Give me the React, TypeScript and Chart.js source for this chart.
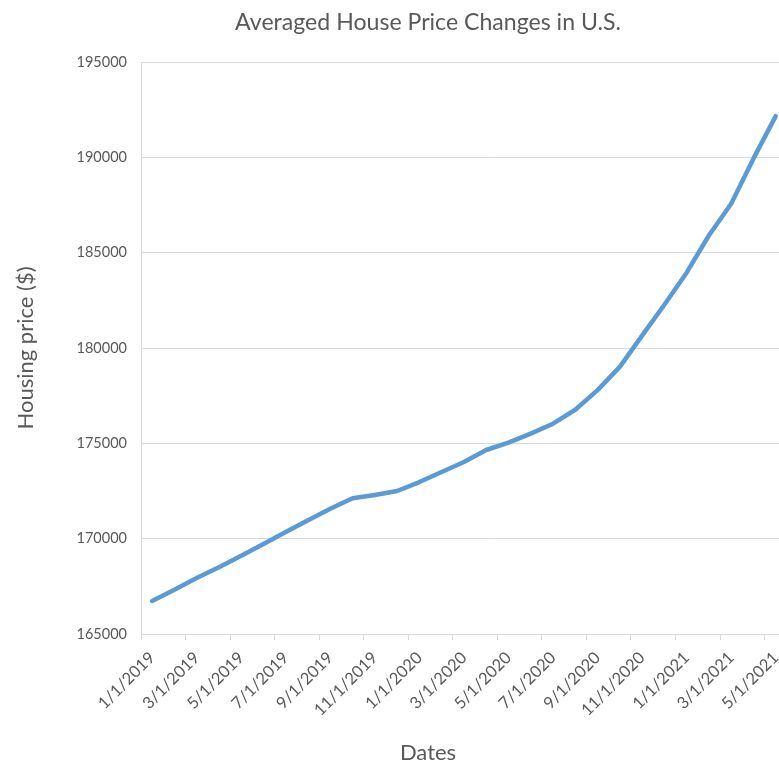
import React, { useEffect, useRef } from 'react';
import { Chart, registerables } from 'chart.js';

Chart.register(...registerables);

// ---- data ----
const months = [
  '1/1/2019', '2/1/2019', '3/1/2019', '4/1/2019', '5/1/2019', '6/1/2019',
  '7/1/2019', '8/1/2019', '9/1/2019', '10/1/2019', '11/1/2019', '12/1/2019',
  '1/1/2020', '2/1/2020', '3/1/2020', '4/1/2020', '5/1/2020', '6/1/2020',
  '7/1/2020', '8/1/2020', '9/1/2020', '10/1/2020', '11/1/2020', '12/1/2020',
  '1/1/2021', '2/1/2021', '3/1/2021', '4/1/2021', '5/1/2021',
];

const prices = [
  166730, 167320, 167940, 168500, 169110, 169720,
  170350, 170960, 171570, 172120, 172290, 172500,
  172970, 173500, 174020, 174650, 175040, 175510,
  176030, 176760, 177790, 179010, 180650, 182270,
  183950, 185900, 187570, 189930, 192160,
];

const xTickLabels = [
  '1/1/2019', '3/1/2019', '5/1/2019', '7/1/2019', '9/1/2019', '11/1/2019',
  '1/1/2020', '3/1/2020', '5/1/2020', '7/1/2020', '9/1/2020', '11/1/2020',
  '1/1/2021', '3/1/2021', '5/1/2021',
];

const yMin = 165000;
const yMax = 195000;
const yStep = 5000;

const titleText = 'Averaged House Price Changes in U.S.';
const xTitleText = 'Dates';
const yTitleText = 'Housing price ($)';

// ---- layout ----
const VIEW_W = 779;
const CANVAS_W = 843;
const CANVAS_H = 762;
const PLOT_LEFT = 141;
const PLOT_BOTTOM = 634;
const MONTH_PX = 22.27;
const X_MIN = -0.5;
const X_MAX = X_MIN + (CANVAS_W - PLOT_LEFT) / MONTH_PX;
const PAD_LEFT = 13;
const SUB_SIZE = 22;
const SUB_PAD_BOTTOM = -4;
const SUB_BOX_H = SUB_SIZE * 1.2 + SUB_PAD_BOTTOM;
const TEXT = '#595959';
const GRID = '#d9d9d9';
const FONT = 'Lato';

export default function App() {
  const ref = useRef<HTMLCanvasElement | null>(null);

  useEffect(() => {
    if (!ref.current) return;
    const chart = new Chart(ref.current, {
      type: 'line',
      data: {
        datasets: [
          {
            label: 'Housing price',
            data: prices.map((p, i) => ({ x: i, y: p })),
            borderColor: '#5b9bd5',
            borderWidth: 4.5,
            borderCapStyle: 'round',
            borderJoinStyle: 'round',
            pointRadius: 0,
            tension: 0,
            fill: false,
          },
        ],
      },
      options: {
        responsive: false,
        animation: false,
        layout: { padding: { left: PAD_LEFT, right: 0, top: 0, bottom: 0 } },
        plugins: {
          legend: { display: false },
          tooltip: { enabled: false },
          title: {
            display: true,
            text: titleText,
            color: TEXT,
            font: { family: FONT, size: 23.1, weight: 'normal' },
            padding: { top: 9, bottom: 62 - 9 - 23.1 * 1.2 },
          },
          subtitle: {
            display: true,
            position: 'bottom',
            text: xTitleText,
            color: TEXT,
            font: { family: FONT, size: SUB_SIZE, weight: 'normal' },
            padding: { top: 0, bottom: SUB_PAD_BOTTOM },
          },
        },
        scales: {
          x: {
            type: 'linear',
            min: X_MIN,
            max: X_MAX,
            afterBuildTicks: (scale: any) => {
              scale.ticks = xTickLabels.map((_, k) => ({ value: k * 2 - 0.5 }));
            },
            afterFit: (scale: any) => {
              scale.height = CANVAS_H - SUB_BOX_H - PLOT_BOTTOM;
            },
            ticks: {
              autoSkip: false,
              minRotation: 45,
              maxRotation: 45,
              labelOffset: MONTH_PX / 2,
              padding: 8,
              color: TEXT,
              font: { family: FONT, size: 16.5 },
              callback: (_v: any, index: number) => xTickLabels[index] ?? '',
            },
            grid: {
              drawOnChartArea: false,
              drawTicks: true,
              tickLength: 6,
              color: GRID,
            },
            border: { display: true, color: GRID },
          },
          y: {
            type: 'linear',
            min: yMin,
            max: yMax,
            afterFit: (scale: any) => {
              scale.width = PLOT_LEFT - PAD_LEFT;
            },
            ticks: {
              stepSize: yStep,
              padding: 14,
              color: TEXT,
              font: { family: FONT, size: 14.5 },
              callback: (v: any) => String(v),
            },
            grid: { color: GRID, drawTicks: false },
            border: { display: true, color: GRID },
            title: {
              display: true,
              text: yTitleText,
              color: TEXT,
              font: { family: FONT, size: 22, weight: 'normal' },
              padding: { top: 0, bottom: 0 },
            },
          },
        },
      },
    });
    return () => chart.destroy();
  }, []);

  return (
    <div
      style={{
        position: 'absolute',
        left: 0,
        top: 0,
        width: VIEW_W,
        height: CANVAS_H,
        overflow: 'hidden',
        background: '#fff',
      }}
    >
      <canvas ref={ref} width={CANVAS_W} height={CANVAS_H} style={{ display: 'block' }} />
    </div>
  );
}
